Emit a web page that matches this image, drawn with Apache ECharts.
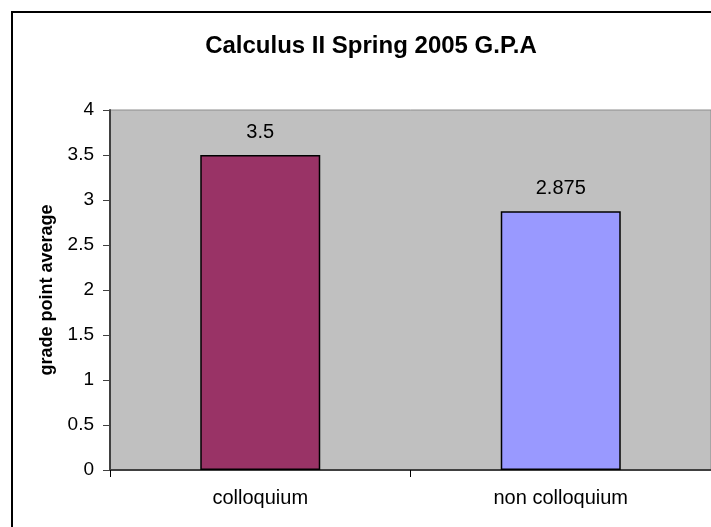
<!DOCTYPE html>
<html>
<head>
<meta charset="utf-8">
<script src="https://cdn.jsdelivr.net/npm/echarts@6/dist/echarts.min.js"></script>
<style>
  html, body { margin: 0; padding: 0; background: #fff; }
  #main { width: 711px; height: 527px; }
</style>
</head>
<body>
<div id="main"></div>
<script>
var categories = ['colloquium', 'non colloquium'];
var gpaValues = [3.5, 2.875];
var barColors = ['#993366', '#9999FF'];
var yTicks = { min: 0, max: 4, step: 0.5 };

var myChart = echarts.init(document.getElementById('main'));
var font = '"Liberation Sans", Arial, sans-serif';

option = {
	backgroundColor: '#ffffff',
	animation: false,
	textStyle: { fontFamily: font },
	graphic: [
		{
			type: 'rect',
			shape: { x: 12, y: 12, width: 800, height: 600 },
			style: { fill: 'none', stroke: '#000', lineWidth: 2 },
			z: 100
		},
		{
			type: 'text',
			x: 371,
			y: 46,
			style: {
				text: 'Calculus II Spring 2005 G.P.A',
				font: 'bold 24px ' + font,
				fill: '#000',
				align: 'center',
				verticalAlign: 'middle'
			}
		},
		{
			type: 'text',
			x: 47,
			y: 290,
			rotation: Math.PI / 2,
			style: {
				text: 'grade point average',
				font: 'bold 18px ' + font,
				fill: '#000',
				align: 'center',
				verticalAlign: 'middle'
			}
		}
	],
	grid: {
		left: 110,
		top: 110,
		right: -1,
		bottom: 57,
		show: true,
		backgroundColor: '#C0C0C0',
		borderColor: '#8c8c8c',
		borderWidth: 1
	},
	xAxis: {
		type: 'category',
		data: categories,
		axisLine: { lineStyle: { color: '#404040', width: 2 } },
		axisTick: { show: true, length: 7, lineStyle: { color: '#000' } },
		axisLabel: { color: '#000', fontSize: 20, margin: 18, fontFamily: font }
	},
	yAxis: {
		type: 'value',
		min: yTicks.min,
		max: yTicks.max,
		interval: yTicks.step,
		splitLine: { show: false },
		axisLine: { show: true, lineStyle: { color: '#404040', width: 2 } },
		axisTick: { show: true, length: 7, lineStyle: { color: '#404040' } },
		axisLabel: { color: '#000', fontSize: 19, margin: 16, fontFamily: font }
	},
	series: [{
		type: 'bar',
		barWidth: 120,
		data: gpaValues.map(function (v, i) {
			return { value: v, itemStyle: { color: barColors[i] } };
		}),
		itemStyle: { borderColor: '#000', borderWidth: 1.5 },
		label: {
			show: true,
			position: 'top',
			distance: 13,
			color: '#000',
			fontSize: 20,
			fontFamily: font
		}
	}]
};
myChart.setOption(option);
</script>
</body>
</html>
